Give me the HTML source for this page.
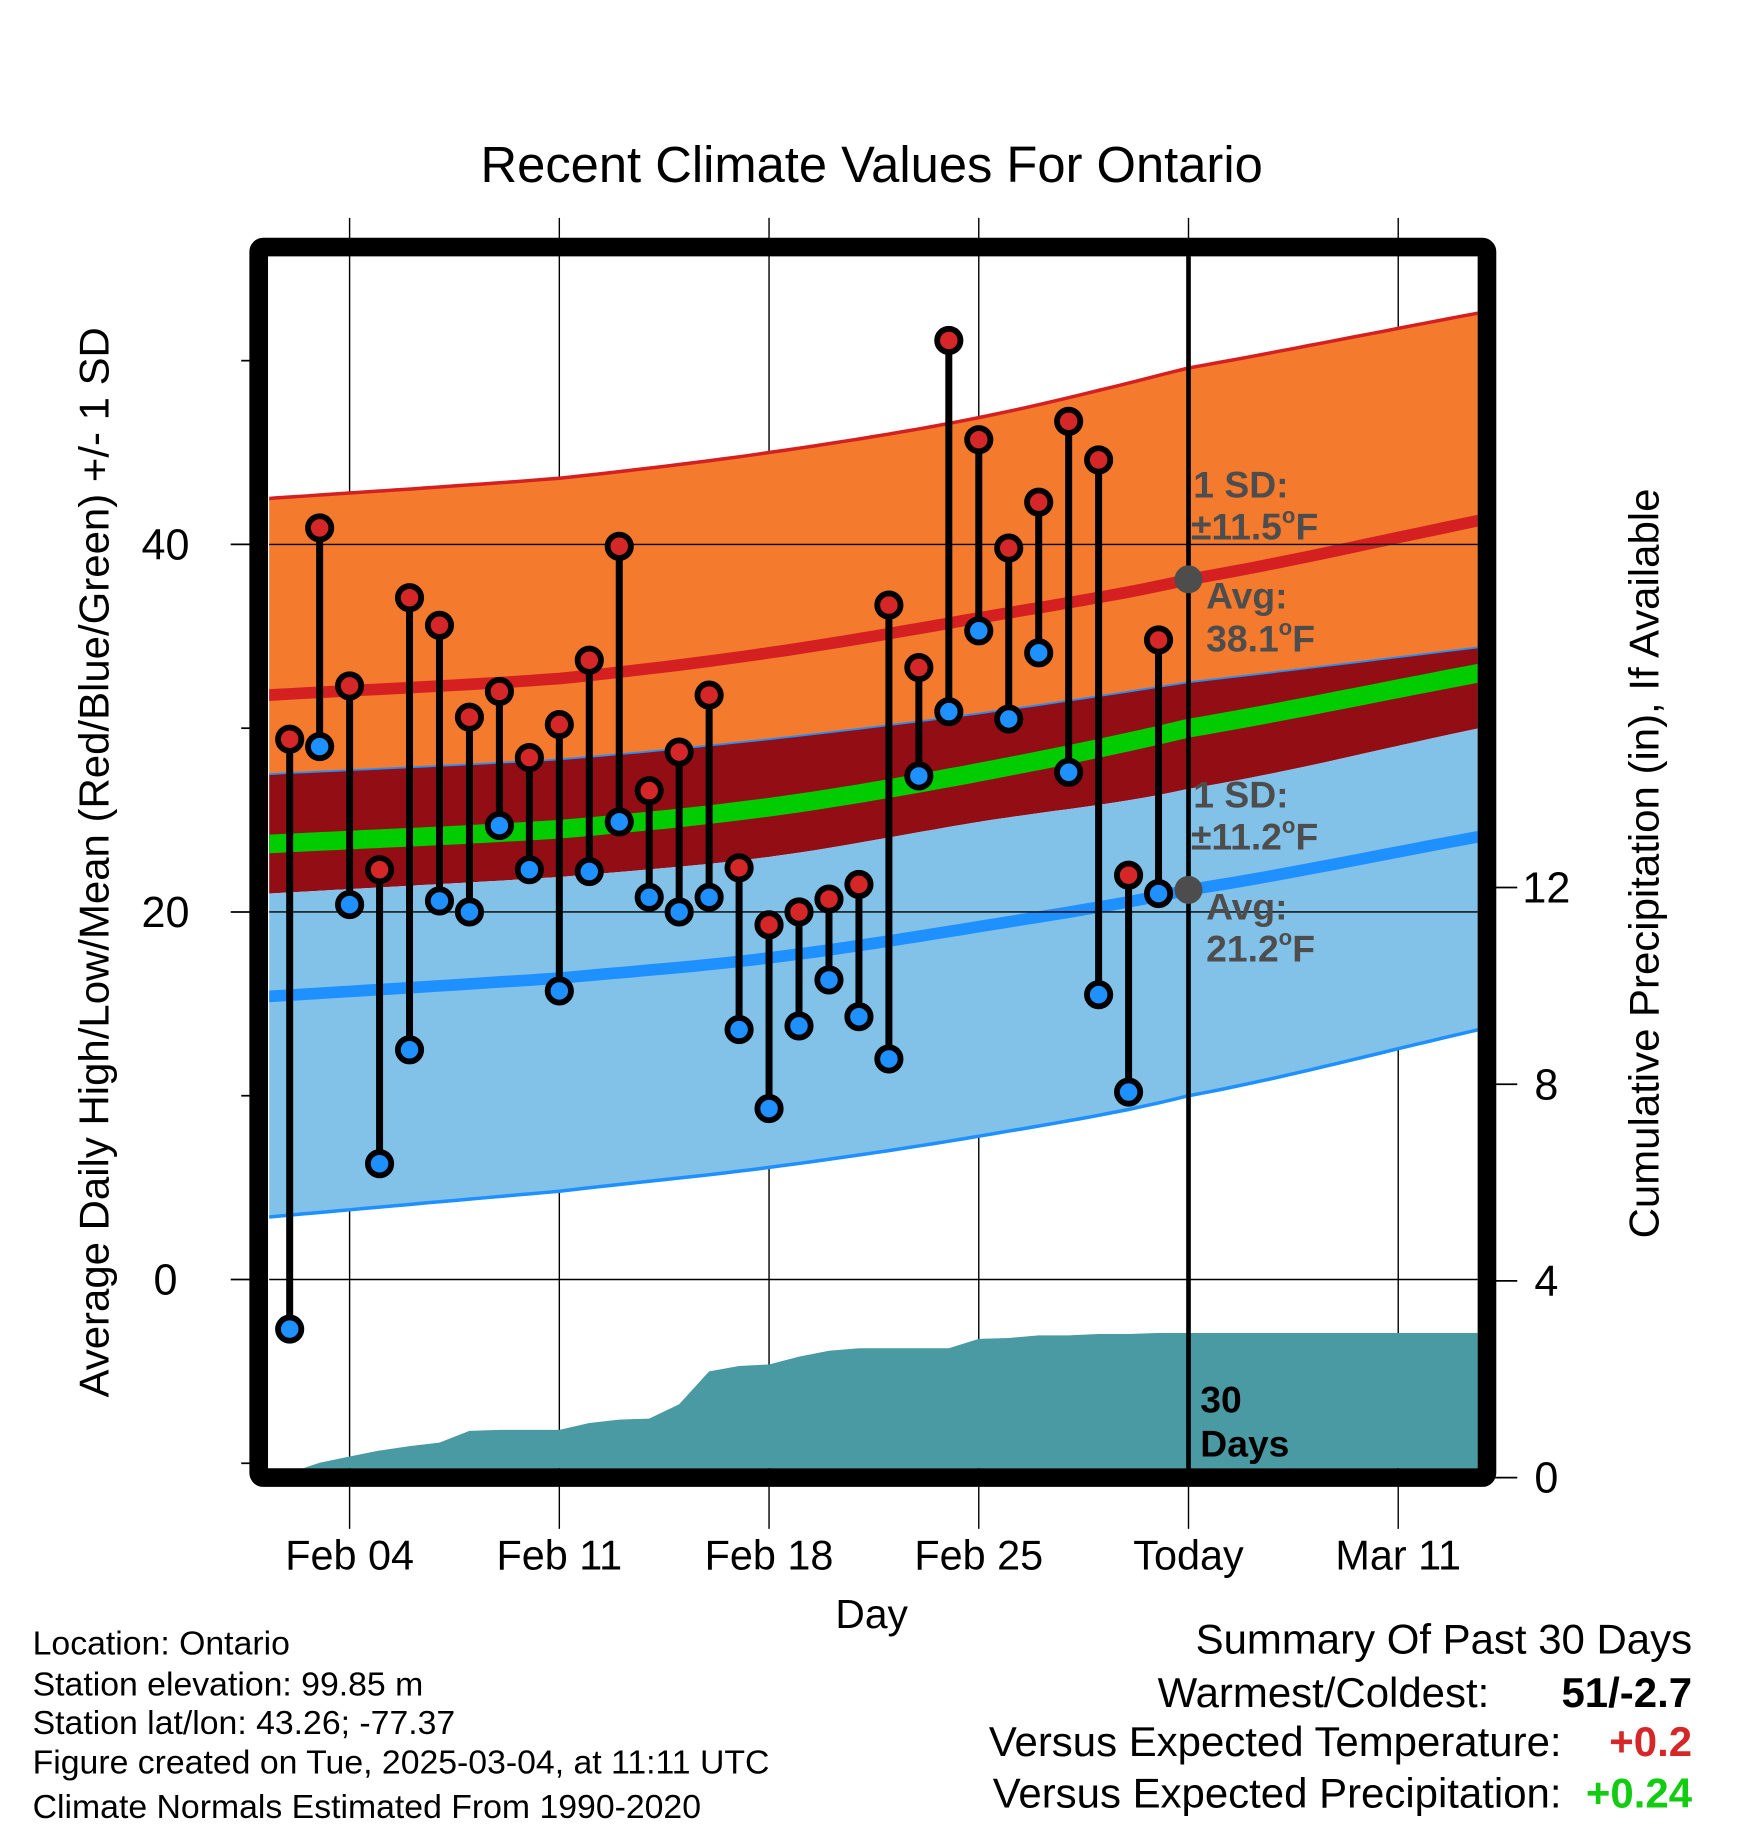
<!DOCTYPE html>
<html><head><meta charset="utf-8"><style>
html,body{margin:0;padding:0;background:#fff;}
svg{display:block;font-family:"Liberation Sans",Arial,sans-serif;}
</style></head><body>
<svg id="chart" width="1748" height="1828" viewBox="0 0 1500 1568.7" preserveAspectRatio="none" xmlns="http://www.w3.org/2000/svg">
<defs><clipPath id="plotclip"><rect x="231" y="220" width="1037" height="1040"/></clipPath></defs>
<text x="748" y="156" font-size="43.5" text-anchor="middle">Recent Climate Values For Ontario</text>
<g id="grid"></g>
<g id="bands" clip-path="url(#plotclip)"></g>
<g id="precip" clip-path="url(#plotclip)"></g>
<g id="hgrid"></g>
<g id="marks"></g>
<g id="annot"></g>
<rect x="222" y="212" width="1054" height="1056" fill="none" stroke="#000" stroke-width="16" rx="4"/>
<g id="axes"></g>
<text transform="translate(93,740) rotate(-90)" font-size="36" text-anchor="middle">Average Daily High/Low/Mean (Red/Blue/Green) +/- 1 SD</text>
<text transform="translate(1423,741) rotate(-90)" font-size="36" text-anchor="middle">Cumulative Precipitation (in), If Available</text>
<text x="748" y="1397" font-size="35" text-anchor="middle">Day</text>
<g font-size="29">
<text x="28" y="1420">Location: Ontario</text>
<text x="28" y="1455">Station elevation: 99.85 m</text>
<text x="28" y="1488">Station lat/lon: 43.26; -77.37</text>
<text x="28" y="1522">Figure created on Tue, 2025-03-04, at 11:11 UTC</text>
<text x="28" y="1560">Climate Normals Estimated From 1990-2020</text>
</g>
<g font-size="36">
<text x="1452" y="1419" text-anchor="end">Summary Of Past 30 Days</text>
<text x="1278" y="1465" text-anchor="end">Warmest/Coldest:</text>
<text x="1452" y="1465" text-anchor="end" font-weight="bold">51/-2.7</text>
<text x="1340" y="1507" text-anchor="end">Versus Expected Temperature:</text>
<text x="1452" y="1507" text-anchor="end" font-weight="bold" fill="#d62728">+0.2</text>
<text x="1340" y="1551" text-anchor="end">Versus Expected Precipitation:</text>
<text x="1452" y="1551" text-anchor="end" font-weight="bold" fill="#11cc11">+0.24</text>
</g>
</svg>
<script>
const highs=[29.4,40.9,32.3,22.3,37.1,35.6,30.6,32.0,28.4,30.2,33.7,39.9,26.6,28.7,31.8,22.4,19.3,20.0,20.7,21.5,36.7,33.3,51.1,45.7,39.8,42.3,46.7,44.6,22.0,34.8];
const lows=[-2.7,29.0,20.4,6.3,12.5,20.6,20.0,24.7,22.3,15.7,22.2,24.9,20.8,20.0,20.8,13.6,9.3,13.8,16.3,14.3,12.0,27.4,30.9,35.3,30.5,34.1,27.6,15.5,10.2,21.0];
const precipCum=[0.1,0.3,0.43,0.55,0.64,0.71,0.95,0.97,0.97,0.97,1.11,1.18,1.2,1.49,2.16,2.27,2.3,2.46,2.58,2.63,2.63,2.63,2.63,2.82,2.84,2.89,2.89,2.92,2.92,2.94];
// normals sampled at day offsets (0 = Feb 04)
const normDays=[-2.7,7,14,21,28,37.7];
const highAvg=[31.8,32.7,34.1,36.0,38.1,41.3];
const highUpper=[42.5,43.6,45.0,46.9,49.6,52.6];
const highLower=[27.5,28.3,29.4,30.8,32.5,34.4];
const meanAvg=[23.7,24.5,25.7,27.6,30.0,33.0];
const lowAvg=[15.4,16.4,17.5,19.2,21.2,24.1];
const lowUpper=[21.0,21.9,23.0,24.9,26.7,30.0];
const lowLower=[3.4,4.8,6.1,7.8,10.0,13.6];
const xTickDays=[0,7,14,21,28,35];
const xTickLabels=["Feb 04","Feb 11","Feb 18","Feb 25","Today","Mar 11"];
const yTicks=[0,20,40];
const yMinor=[-10,10,30,50];
const y2Ticks=[0,4,8,12];
const firstDay=-2; const todayDay=28;

const NS="http://www.w3.org/2000/svg";
const xS=d=>300+d*25.71;
const yS=t=>1098-t*15.77;
const yP=p=>1268-p*42.2;
function mk(tag,attrs,parent){const e=document.createElementNS(NS,tag);for(const k in attrs)e.setAttribute(k,attrs[k]);parent.appendChild(e);return e;}
function interp(arr,d){for(let i=0;i<normDays.length-1;i++){if(d<=normDays[i+1]||i==normDays.length-2){const t=(d-normDays[i])/(normDays[i+1]-normDays[i]);
 const p0=i>0?arr[i-1]:2*arr[0]-arr[1],p1=arr[i],p2=arr[i+1],p3=i+2<arr.length?arr[i+2]:2*arr[i+1]-arr[i];
 const t2=t*t,t3=t2*t;return 0.5*((2*p1)+(-p0+p2)*t+(2*p0-5*p1+4*p2-p3)*t2+(-p0+3*p1-3*p2+p3)*t3);}}}
const samp=[];for(let d=-3;d<38.3;d+=0.5)samp.push(d);samp.push(38.3);
function linePts(arr){return samp.map(d=>xS(d).toFixed(1)+","+yS(interp(arr,d)).toFixed(1));}
function bandPath(a,b){const top=linePts(a),bot=linePts(b).reverse();return "M"+top.join("L")+"L"+bot.join("L")+"Z";}

const grid=document.getElementById('grid');
xTickDays.forEach((d,i)=>{const l=mk('line',{x1:xS(d),x2:xS(d),y1:187,y2:1312,stroke:'#000','stroke-width':1.2},grid);
});
const bands=document.getElementById('bands');
let e;
e=mk('path',{d:bandPath(highUpper,highLower),fill:'#f47a2e'},bands);
e=mk('path',{d:bandPath(highLower,lowUpper),fill:'#930e14'},bands);
e=mk('path',{d:bandPath(lowUpper,lowLower),fill:'#82c1e8'},bands);
function pl(arr,col,w,name){const p=mk('polyline',{points:linePts(arr).join(" "),fill:'none',stroke:col,'stroke-width':w},bands);}
pl(highUpper,'#d42020',3,'high-upper-line');pl(highLower,'#1e90ff',1.5,'high-lower-line');
pl(lowLower,'#1e90ff',3,'low-lower-line');
pl(highAvg,'#d42020',10,'high-avg-line');pl(meanAvg,'#00cc00',16,'mean-line');pl(lowAvg,'#1e90ff',10,'low-avg-line');

const pg=document.getElementById('precip');
let pts=[];precipCum.forEach((v,i)=>pts.push(xS(firstDay+i).toFixed(1)+","+yP(v).toFixed(1)));
pts.push("1270,"+yP(precipCum[precipCum.length-1]).toFixed(1));
e=mk('polygon',{points:xS(firstDay)+",1262 "+pts.join(" ")+" 1270,1262",fill:'#4a9aa3'},pg);


const hg=document.getElementById('hgrid');
yTicks.forEach(t=>{const l=mk('line',{x1:231,x2:1268,y1:yS(t),y2:yS(t),stroke:'#000','stroke-width':1.2},hg);});
e=mk('line',{x1:xS(todayDay),x2:xS(todayDay),y1:220,y2:1262,stroke:'#000','stroke-width':4},hg);

const mg=document.getElementById('marks');
highs.forEach((h,i)=>{const x=xS(firstDay+i);
 const s=mk('line',{x1:x,x2:x,y1:yS(h),y2:yS(lows[i]),stroke:'#000','stroke-width':6},mg);});
highs.forEach((h,i)=>{const x=xS(firstDay+i);
 const c1=mk('circle',{cx:x,cy:yS(h),r:10,fill:'#d62728',stroke:'#000','stroke-width':5},mg);
 const c2=mk('circle',{cx:x,cy:yS(lows[i]),r:10,fill:'#1e90ff',stroke:'#000','stroke-width':5},mg);});

const an=document.getElementById('annot');
const tx=xS(todayDay);
e=mk('circle',{cx:tx,cy:yS(38.1),r:12,fill:'#4d4d4d'},an);
e=mk('circle',{cx:tx,cy:yS(21.2),r:12,fill:'#4d4d4d'},an);
const labs=[["1 SD:","",1024,427],["\u00B111.5","F",1022,463],["Avg:","",1035,522],["38.1","F",1035,559],["1 SD:","",1024,693],["\u00B111.2","F",1022,729],["Avg:","",1035,789],["21.2","F",1035,825]];
labs.forEach(l=>{const t=mk('text',{x:l[2],y:l[3],'font-size':32,'font-weight':'bold',fill:'#4d4d4d'},an);
 t.appendChild(document.createTextNode(l[0]));
 if(l[1]){const s1=mk('tspan',{'font-size':19,dy:-14},t);s1.textContent="o";const s2=mk('tspan',{dy:14},t);s2.textContent=l[1];}});
[["30",1212],["Days",1250]].forEach(l=>{const t=mk('text',{x:1030,y:l[1],'font-size':32,'font-weight':'bold',fill:'#000'},an);t.textContent=l[0];});

const ax=document.getElementById('axes');
yTicks.forEach(t=>{const l=mk('line',{x1:198,x2:215,y1:yS(t),y2:yS(t),stroke:'#000','stroke-width':1.5},ax);
 const s=mk('text',{x:142,y:yS(t)+13,'font-size':37,'text-anchor':'middle'},ax);s.textContent=t;});
yMinor.forEach(t=>{const l=mk('line',{x1:207,x2:215,y1:yS(t),y2:yS(t),stroke:'#000','stroke-width':1.5},ax);});
y2Ticks.forEach(p=>{const l=mk('line',{x1:1283,x2:1302,y1:yP(p),y2:yP(p),stroke:'#000','stroke-width':1.5},ax);
 const s=mk('text',{x:1327,y:yP(p)+13,'font-size':37,'text-anchor':'middle'},ax);s.textContent=p;});
xTickDays.forEach((d,i)=>{const s=mk('text',{x:xS(d),y:1347,'font-size':35.5,'text-anchor':'middle'},ax);s.textContent=xTickLabels[i];});
</script>
</body></html>
